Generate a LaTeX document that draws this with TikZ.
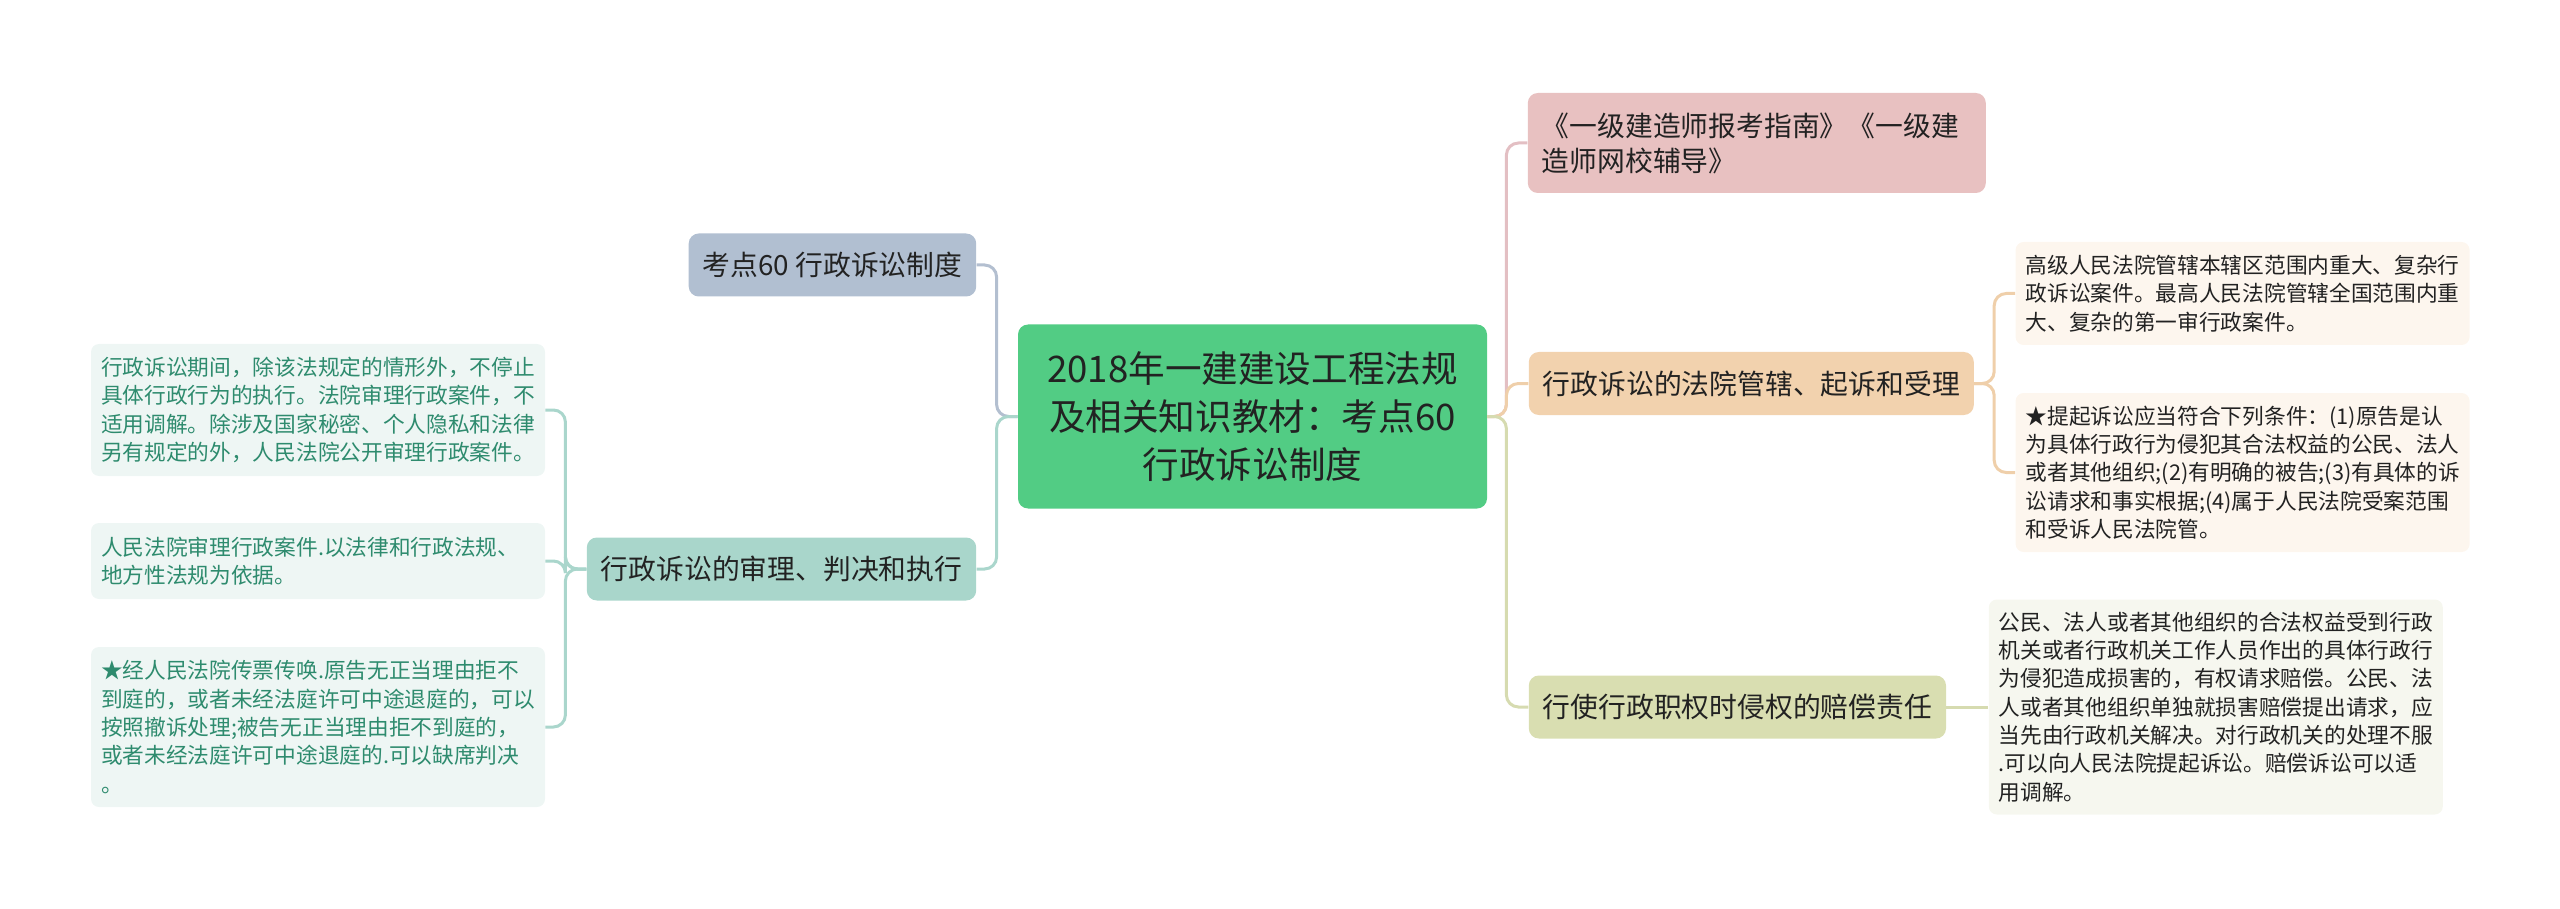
\documentclass[tikz,border=0pt]{standalone}
\usepackage{fontspec}
\usepackage{tikz}
\usetikzlibrary{positioning}
\newfontfamily\cjk{Noto Sans CJK SC}

\definecolor{inkdark}{HTML}{222222}
\definecolor{rootgreen}{HTML}{52CC84}
\definecolor{pinkfill}{HTML}{E8C1C1}
\definecolor{pinkline}{HTML}{E3BFC3}
\definecolor{orangefill}{HTML}{F2D2AE}
\definecolor{orangeline}{HTML}{EFCFAA}
\definecolor{orangeleaf}{HTML}{FDF6EE}
\definecolor{olivefill}{HTML}{D9DEB1}
\definecolor{oliveline}{HTML}{D6DBB0}
\definecolor{oliveleaf}{HTML}{F6F7EF}
\definecolor{slatefill}{HTML}{B1BFD1}
\definecolor{slateline}{HTML}{B3BFD0}
\definecolor{tealfill}{HTML}{A9D6CB}
\definecolor{tealline}{HTML}{AAD6CC}
\definecolor{tealleaf}{HTML}{EEF6F4}
\definecolor{tealtext}{HTML}{2E8B6E}

\begin{document}
\begin{tikzpicture}[
  root/.style={rectangle, fill=rootgreen, rounded corners=5pt, align=center, text=inkdark,
    font=\cjk\fontsize{18.3pt}{24pt}\selectfont, minimum width=234.5pt, minimum height=92pt},
  topic/.style={rectangle, rounded corners=5pt, inner xsep=7pt, inner ysep=0pt, text=inkdark,
    font=\cjk\fontsize{13.9pt}{17.5pt}\selectfont, minimum height=31.5pt},
  leaf/.style={rectangle, rounded corners=4pt, inner xsep=5pt, inner ysep=0pt, text=inkdark,
    text width=217pt, align=left, font=\cjk\fontsize{10.85pt}{14.15pt}\selectfont},
  link/.style={line width=1.5pt, rounded corners=6pt},
  node distance=20.5pt
  ]
  \useasboundingbox (0,0) rectangle (1280pt,-454.5pt);
  \node[root] (c) at (626.25pt,-208.25pt) {2018年一建建设工程法规\\及相关知识教材：考点60\\行政诉讼制度};
  % right side
  \node[topic, fill=pinkfill, text width=215pt, align=left, minimum height=50pt, right=20pt of c, yshift=136.75pt] (p1) {《一级建造师报考指南》《一级建\\造师网校辅导》};
  \node[topic, fill=orangefill, right=of c, yshift=16.5pt] (p2) {行政诉讼的法院管辖、起诉和受理};
  \node[topic, fill=olivefill, right=of c, yshift=-145.25pt] (p3) {行使行政职权时侵权的赔偿责任};
  \node[leaf, fill=orangeleaf, minimum height=51.5pt, right=of p2, yshift=45pt] (p2a) {高级人民法院管辖本辖区范围内重大、复杂行\\政诉讼案件。最高人民法院管辖全国范围内重\\大、复杂的第一审行政案件。};
  \node[leaf, fill=orangeleaf, minimum height=79.5pt, right=of p2, yshift=-44.5pt] (p2b) {★提起诉讼应当符合下列条件：(1)原告是认\\为具体行政行为侵犯其合法权益的公民、法人\\或者其他组织;(2)有明确的被告;(3)有具体的诉\\讼请求和事实根据;(4)属于人民法院受案范围\\和受诉人民法院管。};
  \node[leaf, fill=oliveleaf, minimum height=107.5pt, right=21pt of p3] (p3a) {公民、法人或者其他组织的合法权益受到行政\\机关或者行政机关工作人员作出的具体行政行\\为侵犯造成损害的，有权请求赔偿。公民、法\\人或者其他组织单独就损害赔偿提出请求，应\\当先由行政机关解决。对行政机关的处理不服\\.可以向人民法院提起诉讼。赔偿诉讼可以适\\用调解。};
  % left side
  \node[topic, fill=slatefill, left=of c, yshift=75.75pt] (q1) {考点60 行政诉讼制度};
  \node[topic, fill=tealfill, left=of c, yshift=-76.25pt] (q2) {行政诉讼的审理、判决和执行};
  \node[leaf, fill=tealleaf, text=tealtext, minimum height=66pt, left=of q2, yshift=79.5pt] (q2a) {行政诉讼期间，除该法规定的情形外，不停止\\具体行政行为的执行。法院审理行政案件，不\\适用调解。除涉及国家秘密、个人隐私和法律\\另有规定的外，人民法院公开审理行政案件。};
  \node[leaf, fill=tealleaf, text=tealtext, minimum height=38pt, left=of q2, yshift=4pt] (q2b) {人民法院审理行政案件.以法律和行政法规、\\地方性法规为依据。};
  \node[leaf, fill=tealleaf, text=tealtext, minimum height=80pt, left=of q2, yshift=-79pt] (q2c) {★经人民法院传票传唤.原告无正当理由拒不\\到庭的，或者未经法庭许可中途退庭的，可以\\按照撤诉处理;被告无正当理由拒不到庭的，\\或者未经法庭许可中途退庭的.可以缺席判决\\。};
  % connectors
  \draw[link, draw=pinkline] (c.east) -- ++(9.5pt,0) |- (p1.west);
  \draw[link, draw=orangeline] (c.east) -- ++(9.5pt,0) |- (p2.west);
  \draw[link, draw=oliveline] (c.east) -- ++(9.5pt,0) |- (p3.west);
  \draw[link, draw=orangeline] (p2.east) -- ++(10pt,0) |- (p2a.west);
  \draw[link, draw=orangeline] (p2.east) -- ++(10pt,0) |- (p2b.west);
  \draw[link, draw=oliveline] (p3.east) -- (p3a.west);
  \draw[link, draw=slateline] (c.west) -- ++(-10.5pt,0) |- (q1.east);
  \draw[link, draw=tealline] (c.west) -- ++(-10.5pt,0) |- (q2.east);
  \draw[link, draw=tealline] (q2.west) -- ++(-10.5pt,0) |- (q2a.east);
  \draw[link, draw=tealline] (q2.west) -- ++(-10.5pt,0) |- (q2b.east);
  \draw[link, draw=tealline] (q2.west) -- ++(-10.5pt,0) |- (q2c.east);
\end{tikzpicture}
\end{document}
